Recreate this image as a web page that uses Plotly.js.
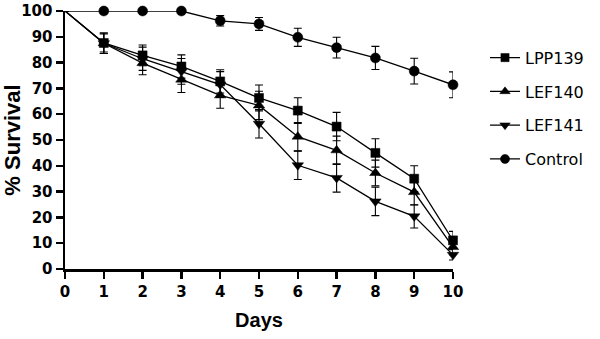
<!DOCTYPE html>
<html>
<head>
<meta charset="utf-8">
<script src="https://cdn.plot.ly/plotly-3.0.1.min.js"></script>
<style>html,body{margin:0;padding:0;background:#fff}#chart{width:600px;height:339px}</style>
</head>
<body>
<div id="chart"></div>
<script>
const days = [0,1,2,3,4,5,6,7,8,9,10];
const seriesNames = ["LPP139","LEF140","LEF141","Control"];
const lpp139 = [100,87.6,82.8,78.5,72.7,66.3,61.4,55.2,45.0,35.0,11.1];
const lpp139Err = [0,3.5,4,4.5,4.5,5,5,5.5,5.5,5,3.5];
const lef140 = [100,87.5,79.8,73.4,67.3,63.4,51.3,46.0,37.2,29.8,8.5];
const lef140Err = [0,4,4.5,5,5,5.5,5.5,5.5,5,5,3];
const lef141 = [100,87.5,81.5,76.6,71.5,56.3,40.2,35.3,26.2,20.4,5.5];
const lef141Err = [0,4,4.5,5,5,5.5,5.5,5.5,5.5,4.5,2];
const control = [100,100,100,100,96.2,95.0,89.8,85.8,81.8,76.7,71.4];
const controlErr = [0,0,0,0,2,2.5,3.5,4,4.5,5,5];

const values = [lpp139, lef140, lef141, control];
const errs = [lpp139Err, lef140Err, lef141Err, controlErr];
const symbols = ["square","triangle-up","triangle-down","circle"];
const sizes = [9,10,10,10];

const traces = seriesNames.map((n,i)=>({
  x: days, y: values[i], name: n, type: "scatter", mode: "lines+markers",
  legendgroup: n,
  line: {color: "#000", width: 1.3},
  marker: {symbol: symbols[i], color: "#000", opacity: 1, size: days.map(d=> d===0 ? 0 : sizes[i]), line:{color: "#000", width: 0.5}},
  error_y: {type: "data", array: errs[i], visible: true, color: "#000", thickness: 1.1, width: 4},
  cliponaxis: false
}));

const layout = {
  width: 600, height: 339,
  margin: {l: 65, r: 147, t: 11, b: 70},
  paper_bgcolor: "#fff", plot_bgcolor: "#fff",
  font: {family: "Liberation Sans, Arial, sans-serif", color: "#000"},
  showlegend: true,
  legend: {x: 1.0825, y: 0.885, xanchor: "left", yanchor: "top",
    font: {size: 16, color: "#000", family: "DejaVu Sans, sans-serif"},
    tracegroupgap: 10, itemwidth: 30, bgcolor: "rgba(0,0,0,0)"},
  xaxis: {
    range: [0, 10], tickvals: days, ticktext: days.map(String),
    showgrid: false, zeroline: false, showline: true, linecolor: "#000", linewidth: 2.5,
    ticks: "outside", ticklen: 7, tickwidth: 2.5, tickcolor: "#000",
    tickfont: {size: 15, family: "DejaVu Sans, sans-serif", weight: "bold", color: "#000"},
    title: {text: "<b>Days</b>", font: {size: 20, color: "#000"}, standoff: 14}
  },
  yaxis: {
    range: [0, 100], tickvals: [0,10,20,30,40,50,60,70,80,90,100],
    showgrid: false, zeroline: false, showline: true, linecolor: "#000", linewidth: 2.5,
    ticks: "outside", ticklen: 7, tickwidth: 2.5, tickcolor: "#000",
    ticklabelstandoff: 0,
    tickfont: {size: 15, family: "DejaVu Sans, sans-serif", weight: "bold", color: "#000"},
    title: {text: "<b>% Survival</b>", font: {size: 22, color: "#000"}, standoff: 8}
  }
};

Plotly.newPlot("chart", traces, layout, {displayModeBar: false, staticPlot: true});
</script>
</body>
</html>
